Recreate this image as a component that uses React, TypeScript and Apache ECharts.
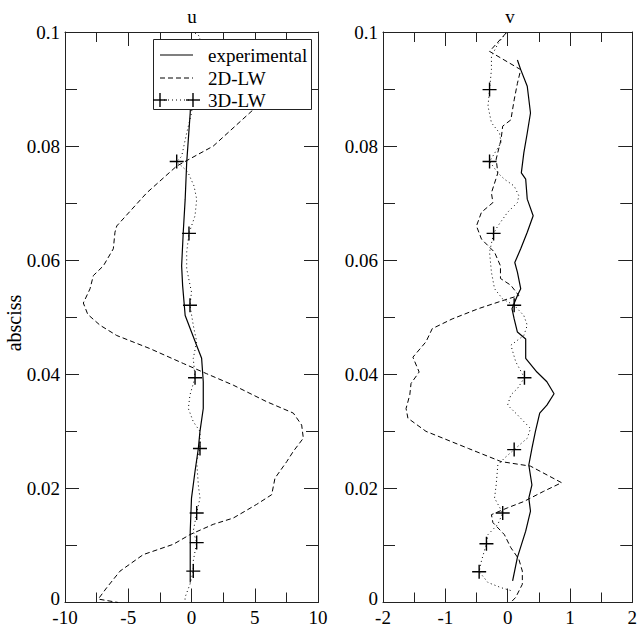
import React, { useEffect, useRef } from "react";
import * as echarts from "echarts";

// ---------- data ----------
const panelTitles = ["u", "v"];
const legendNames = ["experimental", "2D-LW", "3D-LW"];
const yAxisName = "absciss";

// left panel: [u, abscissa]
const uExperimental: number[][] = [
  [0.0, 0.095], [-0.05, 0.09], [-0.1, 0.0859], [-0.38, 0.0771], [-0.5, 0.0707], [-0.65, 0.065],
  [-0.78, 0.059], [-0.7, 0.0555], [-0.5, 0.0503], [0.0, 0.0474], [0.4, 0.0451], [0.8, 0.0428],
  [0.93, 0.0387], [0.93, 0.034], [0.67, 0.03], [0.54, 0.027], [0.28, 0.023], [0.0, 0.0183],
  [-0.1, 0.0125], [-0.1, 0.0067], [-0.1, 0.0035],
];
const u2DLW: number[][] = [
  [8.0, 0.093], [6.5, 0.0895], [4.89, 0.0864], [1.72, 0.08], [-1.17, 0.0765], [-3.54, 0.0718],
  [-5.91, 0.066], [-6.05, 0.0649], [-6.18, 0.062], [-6.97, 0.059], [-7.76, 0.0573], [-8.02, 0.055],
  [-8.55, 0.0525], [-8.2, 0.0505], [-7.23, 0.0486], [-5.91, 0.0468], [-3.28, 0.0445], [-0.65, 0.0419],
  [1.2, 0.0401], [3.3, 0.0381], [5.94, 0.0352], [8.05, 0.0332], [8.71, 0.0311], [8.84, 0.0288],
  [8.05, 0.0265], [7.53, 0.0247], [6.6, 0.0218], [6.34, 0.0189], [5.15, 0.0172], [3.3, 0.0148],
  [1.72, 0.0137], [-0.12, 0.0119], [-1.44, 0.0102], [-3.81, 0.0084], [-5.65, 0.0055], [-6.7, 0.0026],
  [-7.37, 0.0006], [-5.8, 0.0],
];
const u3DLW: number[][] = [
  [0.28, 0.0998], [0.67, 0.0992], [0.5, 0.095], [0.2, 0.0899], [0.0, 0.0858], [-0.38, 0.0823],
  [-0.78, 0.0782], [-1.17, 0.0773], [-0.3, 0.0755], [0.2, 0.073], [0.41, 0.0707], [0.28, 0.0678],
  [-0.2, 0.0647], [-0.38, 0.0614], [-0.38, 0.0585], [0.0, 0.0544], [-0.12, 0.0521], [0.14, 0.0486],
  [0.41, 0.0457], [0.14, 0.0428], [0.28, 0.0394], [-0.12, 0.0364], [-0.25, 0.034], [0.14, 0.0317],
  [0.67, 0.03], [0.67, 0.027], [0.41, 0.0247], [0.54, 0.0206], [0.67, 0.0183], [0.41, 0.0157],
  [0.14, 0.0125], [0.41, 0.0105], [0.14, 0.0073], [0.14, 0.0055], [-0.12, 0.0032], [-0.51, 0.0009],
  [-0.51, 0.0],
];
const u3DLWMarkers: number[][] = [
  [0.2, 0.0899], [-1.17, 0.0773], [-0.2, 0.0647], [-0.12, 0.0521], [0.28, 0.0394], [0.67, 0.027],
  [0.41, 0.0157], [0.41, 0.0105], [0.14, 0.0055],
];

// right panel: [v, abscissa]
const vExperimental: number[][] = [
  [0.157, 0.0951], [0.21, 0.0934], [0.315, 0.0905], [0.367, 0.0858], [0.315, 0.0823], [0.26, 0.0788],
  [0.22, 0.0753], [0.29, 0.0742], [0.315, 0.0707], [0.41, 0.0678], [0.315, 0.0649], [0.21, 0.062],
  [0.115, 0.0596], [0.157, 0.0579], [0.21, 0.055], [0.157, 0.0538], [0.07, 0.0515], [0.105, 0.0497],
  [0.157, 0.0474], [0.29, 0.0462], [0.29, 0.0428], [0.47, 0.0404], [0.63, 0.0387], [0.745, 0.0366],
  [0.63, 0.0346], [0.515, 0.0332], [0.446, 0.03], [0.39, 0.027], [0.34, 0.0241], [0.39, 0.0206],
  [0.34, 0.0183], [0.367, 0.016], [0.34, 0.0148], [0.29, 0.0125], [0.157, 0.0079], [0.08, 0.0038],
];
const v2DLW: number[][] = [
  [-0.026, 0.0998], [-0.29, 0.0966], [0.21, 0.0934], [0.157, 0.091], [0.105, 0.0881], [0.052, 0.0846],
  [-0.079, 0.0835], [-0.105, 0.0812], [-0.184, 0.0777], [-0.157, 0.0753], [-0.26, 0.0718], [-0.236, 0.0701],
  [-0.42, 0.0684], [-0.5, 0.066], [-0.42, 0.0637], [-0.21, 0.0614], [-0.115, 0.059], [-0.115, 0.0568],
  [0.052, 0.0556], [0.18, 0.0538], [0.0, 0.0532], [-0.47, 0.0515], [-0.89, 0.0497], [-1.21, 0.048],
  [-1.31, 0.0457], [-1.52, 0.043], [-1.42, 0.0404], [-1.55, 0.0384], [-1.57, 0.0364], [-1.63, 0.034],
  [-1.6, 0.0323], [-1.31, 0.03], [-0.63, 0.027], [-0.105, 0.0247], [0.367, 0.0239], [0.866, 0.021],
  [0.58, 0.0195], [0.26, 0.0177], [0.0, 0.0166], [-0.26, 0.0154], [-0.236, 0.014], [-0.052, 0.0119],
  [0.052, 0.0096], [0.18, 0.0076], [0.236, 0.0055], [0.236, 0.0032], [0.13, 0.0009], [0.05, 0.0],
];
const v3DLW: number[][] = [
  [-0.026, 0.0998], [-0.157, 0.0979], [-0.26, 0.0957], [-0.26, 0.0934], [-0.29, 0.0899], [-0.315, 0.087],
  [-0.26, 0.0841], [-0.13, 0.0823], [-0.105, 0.0806], [-0.29, 0.0773], [-0.157, 0.0753], [-0.052, 0.0742],
  [0.105, 0.073], [0.18, 0.0713], [0.157, 0.0701], [0.0, 0.0684], [-0.157, 0.066], [-0.225, 0.0647],
  [-0.29, 0.0614], [-0.26, 0.0579], [-0.21, 0.055], [-0.079, 0.0532], [0.105, 0.0521], [0.26, 0.0503],
  [0.315, 0.0486], [0.26, 0.0468], [0.052, 0.0451], [0.13, 0.0422], [0.27, 0.0394], [0.157, 0.0375],
  [0.052, 0.0364], [0.0, 0.0346], [0.157, 0.0329], [0.367, 0.0305], [0.315, 0.0288], [0.105, 0.0268],
  [-0.052, 0.0253], [-0.157, 0.0241], [-0.184, 0.0206], [-0.21, 0.0183], [-0.079, 0.0157], [-0.157, 0.0137],
  [-0.315, 0.0119], [-0.34, 0.0103], [-0.42, 0.0073], [-0.457, 0.0054], [-0.315, 0.0035], [-0.105, 0.0026],
  [0.08, 0.002],
];
const v3DLWMarkers: number[][] = [
  [-0.29, 0.0899], [-0.29, 0.0773], [-0.225, 0.0647], [0.105, 0.0521], [0.27, 0.0394], [0.105, 0.0268],
  [-0.079, 0.0157], [-0.34, 0.0103], [-0.457, 0.0054],
];

// axis ranges
const uRange = [-10, 10, 5];
const vRange = [-2, 2, 1];
const yRange = [0, 0.1, 0.02];

// ---------- styling ----------
const FONT = "Liberation Serif";
const INK = "#000";
const PLUS = "path://M0,6.3H14V7.7H0Z M6.3,0H7.7V14H6.3Z";

function xAxisDef(gridIndex: number, r: number[], pos: "bottom" | "top") {
  return {
    type: "value", gridIndex, position: pos, min: r[0], max: r[1], interval: r[2],
    axisLine: { show: true, onZero: false, lineStyle: { color: "#222", width: 1 } },
    axisTick: { show: true, inside: true, length: 14, lineStyle: { color: "#222" } },
    minorTick: { show: true, splitNumber: 2, length: 10, lineStyle: { color: "#222" } },
    splitLine: { show: false },
    axisLabel: { show: pos === "bottom", color: INK, fontFamily: FONT, fontSize: 19, lineHeight: 14, margin: 8 },
  };
}
function yAxisDef(gridIndex: number, pos: "left" | "right") {
  return {
    type: "value", gridIndex, position: pos, min: yRange[0], max: yRange[1], interval: yRange[2],
    axisLine: { show: true, onZero: false, lineStyle: { color: "#222", width: 1 } },
    axisTick: { show: true, inside: true, length: 14, lineStyle: { color: "#222" } },
    minorTick: { show: true, splitNumber: 2, length: 12, lineStyle: { color: "#222" } },
    splitLine: { show: false },
    axisLabel: {
      show: pos === "left", color: INK, fontFamily: FONT, fontSize: 19, lineHeight: 14, margin: 5,
      formatter: (v: number) => (v === 0 ? "{zero|0}" : String(v)),
      rich: { zero: { fontFamily: FONT, fontSize: 19, color: INK, lineHeight: 14, padding: [0, 0, 9, 0] } },
    },
  };
}
function lineSeries(name: string, data: number[][], xi: number, yi: number, type: any, width = 1) {
  return {
    name, type: "line", data, xAxisIndex: xi, yAxisIndex: yi, showSymbol: false, symbol: "none",
    smooth: false, z: 2, lineStyle: { color: INK, width, type },
  };
}
function markerSeries(name: string, data: number[][], xi: number, yi: number) {
  return {
    name, type: "scatter", data, xAxisIndex: xi, yAxisIndex: yi, symbol: PLUS, symbolSize: 14, z: 3,
    itemStyle: { color: INK, opacity: 1 },
  };
}

export default function App() {
  const ref = useRef<HTMLDivElement>(null);
  useEffect(() => {
    if (!ref.current) return;
    const chart = echarts.init(ref.current, null, { renderer: "svg" });
    const lx0 = 160, lx1 = 193, tx = 208;
    const rows = [55, 78, 100];
    const txtStyle = (t: string, x: number, y: number) => ({
      type: "text", x, y, z: 101,
      style: { text: t, fill: INK, font: `19px '${FONT}'`, align: "left", verticalAlign: "middle" },
    });
    const plusAt = (x: number, y: number) => [
      { type: "line", z: 101, shape: { x1: x - 7, y1: y, x2: x + 7, y2: y }, style: { stroke: INK, lineWidth: 1.4 } },
      { type: "line", z: 101, shape: { x1: x, y1: y - 7, x2: x, y2: y + 7 }, style: { stroke: INK, lineWidth: 1.4 } },
    ];
    chart.setOption({
      animation: false,
      backgroundColor: "#fff",
      grid: [
        { left: 65, top: 32, width: 253, height: 573 },
        { left: 383, top: 32, width: 254, height: 573 },
      ],
      xAxis: [
        xAxisDef(0, uRange, "bottom"), xAxisDef(0, uRange, "top"),
        xAxisDef(1, vRange, "bottom"), xAxisDef(1, vRange, "top"),
      ],
      yAxis: [yAxisDef(0, "left"), yAxisDef(0, "right"), yAxisDef(1, "left"), yAxisDef(1, "right")],
      series: [
        lineSeries(legendNames[0], uExperimental, 0, 0, "solid", 1.2),
        lineSeries(legendNames[1], u2DLW, 0, 0, [5, 3], 1),
        lineSeries(legendNames[2], u3DLW, 0, 0, [1, 3], 1),
        markerSeries(legendNames[2], u3DLWMarkers, 0, 0),
        lineSeries(legendNames[0], vExperimental, 2, 2, "solid", 1.2),
        lineSeries(legendNames[1], v2DLW, 2, 2, [5, 3], 1),
        lineSeries(legendNames[2], v3DLW, 2, 2, [1, 3], 1),
        markerSeries(legendNames[2], v3DLWMarkers, 2, 2),
      ],
      graphic: [
        { type: "text", x: 192, y: 16, z: 101, style: { text: panelTitles[0], fill: INK, font: `19px '${FONT}'`, align: "center", verticalAlign: "middle" } },
        { type: "text", x: 510, y: 16, z: 101, style: { text: panelTitles[1], fill: INK, font: `19px '${FONT}'`, align: "center", verticalAlign: "middle" } },
        { type: "text", x: 14, y: 323, rotation: Math.PI / 2, z: 101, style: { text: yAxisName, fill: INK, font: `20px '${FONT}'`, align: "center", verticalAlign: "middle" } },
        { type: "rect", z: 100, shape: { x: 153.5, y: 39.5, width: 158, height: 70 }, style: { fill: "#fff", stroke: "#222", lineWidth: 1 } },
        { type: "line", z: 101, shape: { x1: lx0, y1: rows[0], x2: lx1, y2: rows[0] }, style: { stroke: INK, lineWidth: 1.2 } },
        { type: "line", z: 101, shape: { x1: lx0, y1: rows[1], x2: lx1, y2: rows[1] }, style: { stroke: INK, lineWidth: 1, lineDash: [5, 3] } },
        { type: "line", z: 101, shape: { x1: lx0, y1: rows[2], x2: lx1, y2: rows[2] }, style: { stroke: INK, lineWidth: 1, lineDash: [1, 3] } },
        ...plusAt(lx0, rows[2]),
        ...plusAt(lx1, rows[2]),
        txtStyle(legendNames[0], tx, rows[0]),
        txtStyle(legendNames[1], tx, rows[1]),
        txtStyle(legendNames[2], tx, rows[2]),
      ],
    });
    return () => chart.dispose();
  }, []);
  return <div ref={ref} style={{ position: "absolute", left: 0, top: 0, width: 640, height: 627 }} />;
}
